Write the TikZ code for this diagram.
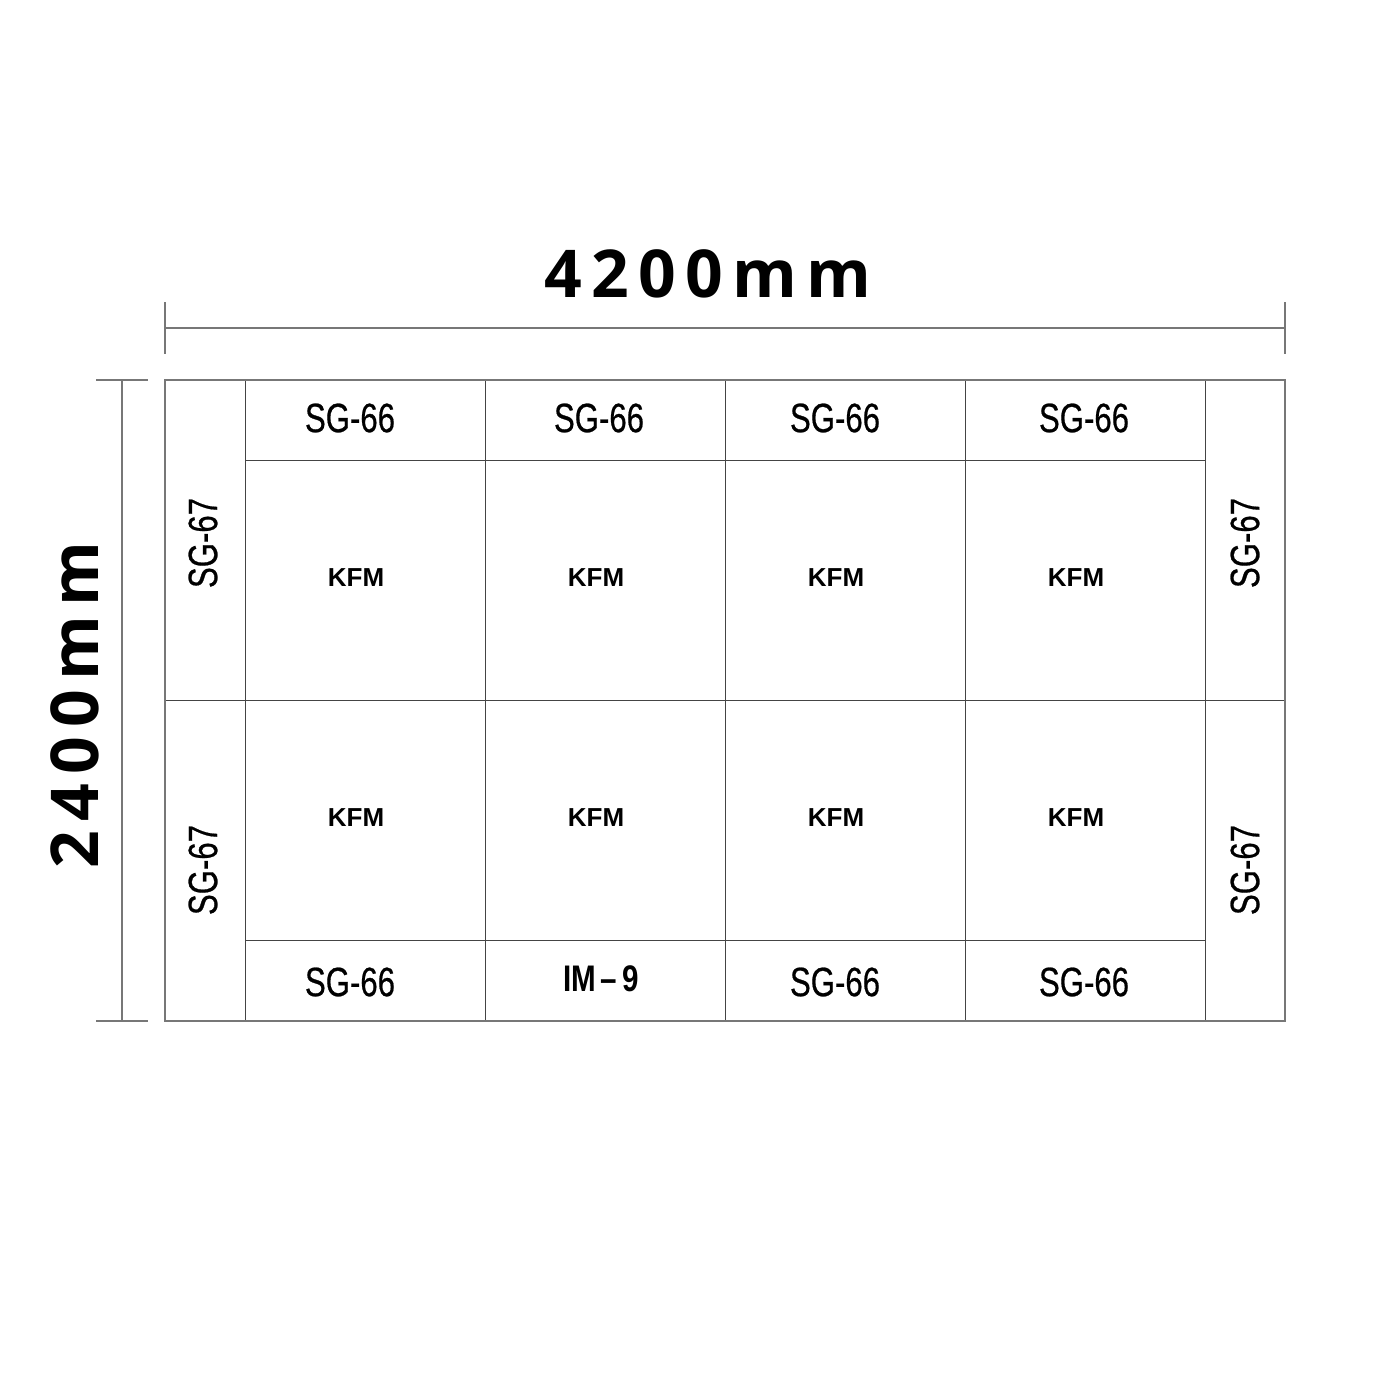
\documentclass[tikz,border=0pt]{standalone}
\usepackage{fontspec}
\setmainfont{Liberation Sans}
\newfontfamily\dimfont{Open Sans}[LetterSpace=14]
\newfontfamily\sgfont{Liberation Sans}[FakeBold=0.6]
\definecolor{lngray}{HTML}{777777}
\definecolor{lndark}{HTML}{444444}
\tikzset{
  outerln/.style={draw=lngray, line width=1.5pt},
  innerln/.style={draw=lndark, line width=1pt},
  dimln/.style={draw=lngray, line width=1.5pt},
  sglabel/.style={inner sep=0pt, font=\sgfont\fontsize{41}{41}\selectfont},
  kfmlabel/.style={inner sep=0pt, font=\fontsize{26}{26}\selectfont\bfseries},
  imlabel/.style={inner sep=0pt, font=\fontsize{37}{37}\selectfont\bfseries},
  dimlabel/.style={inner sep=0pt, font=\dimfont\bfseries\fontsize{66}{66}\selectfont},
}
\newcommand{\narrow}[1]{\scalebox{0.76}[1]{#1}}
\begin{document}
\begin{tikzpicture}[x=1pt,y=-1pt]
\useasboundingbox (0,0) rectangle (1400,1400);
% dimension lines
\draw[dimln] (165,328) -- (1285,328);
\draw[dimln] (165,302) -- (165,354);
\draw[dimln] (1285,302) -- (1285,354);
\draw[dimln] (122,380) -- (122,1021);
\draw[dimln] (96,380) -- (148,380);
\draw[dimln] (96,1021) -- (148,1021);
\node[dimlabel] (wlab) at (708,274) {4200mm};
\node[dimlabel, rotate=90] (hlab) at (75,705) {2400mm};
% inner grid
\foreach \x in {245,485,725,965,1205} \draw[innerln] (\x,380) -- (\x,1021);
\draw[innerln] (245,460) -- (1205,460);
\draw[innerln] (245,940) -- (1205,940);
\draw[innerln] (165,700) -- (1285,700);
% outer frame
\draw[outerln] (165,380) rectangle (1285,1021);
% top strip
\node[sglabel] (t1) at (350,418) {\narrow{SG-66}};
\node[sglabel] (t2) at (599,418) {\narrow{SG-66}};
\node[sglabel] (t3) at (835,418) {\narrow{SG-66}};
\node[sglabel] (t4) at (1084,418) {\narrow{SG-66}};
% bottom strip
\node[sglabel] (b1) at (350,982) {\narrow{SG-66}};
\node[imlabel] (b2) at (601,979) {\scalebox{0.8}[1]{IM\,–\,9}};
\node[sglabel] (b3) at (835,982) {\narrow{SG-66}};
\node[sglabel] (b4) at (1084,982) {\narrow{SG-66}};
% KFM cells
\foreach \x/\n in {356/1,596/2,836/3,1076/4}{
  \node[kfmlabel] (ka\n) at (\x,578) {KFM};
  \node[kfmlabel] (kb\n) at (\x,818) {KFM};
}
% side columns
\node[sglabel, rotate=90] (l1) at (203,543) {\narrow{SG-67}};
\node[sglabel, rotate=90] (l2) at (203,870) {\narrow{SG-67}};
\node[sglabel, rotate=90] (r1) at (1245,543) {\narrow{SG-67}};
\node[sglabel, rotate=90] (r2) at (1245,870) {\narrow{SG-67}};
\end{tikzpicture}
\end{document}
